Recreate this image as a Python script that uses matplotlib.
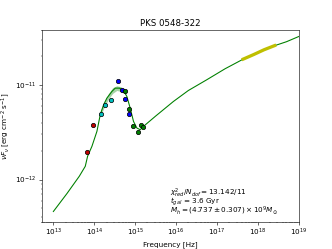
import numpy as np
import matplotlib
matplotlib.use('Agg')
import matplotlib.pyplot as plt

# observed SED points (log10 nu, log10 nuFnu)
red_x = [13.83, 13.96]
red_y = [-11.709, -11.428]
cyan_x = [14.155, 14.268, 14.398]
cyan_y = [-11.305, -11.21, -11.158]
blue_x = [14.585, 14.675, 14.748, 14.846]
blue_y = [-10.965, -11.053, -11.151, -11.305]
green_x = [14.748, 14.846, 14.95, 15.065, 15.146, 15.203]
green_y = [-11.06, -11.253, -11.435, -11.498, -11.428, -11.442]

# model curve
model_x = [13.0, 13.333, 13.634, 13.78, 13.837, 13.943, 14.065, 14.146, 14.228,
           14.309, 14.431, 14.512, 14.618, 14.715, 14.797, 14.878, 14.959,
           15.041, 15.122, 15.202, 15.5, 15.934, 16.3, 16.749, 17.2, 17.641,
           18.0, 18.415, 18.7, 19.0]
model_y = [-12.337, -12.147, -11.965, -11.86, -11.754, -11.649, -11.491, -11.316,
           -11.211, -11.14, -11.07, -11.035, -11.035, -11.06, -11.123, -11.246,
           -11.386, -11.456, -11.474, -11.439, -11.33, -11.176, -11.06, -10.947,
           -10.83, -10.729, -10.66, -10.586, -10.545, -10.49]

# spread of model around the peak
band_x = [14.15, 14.25, 14.35, 14.45, 14.55, 14.65, 14.72]
band_lo = [-11.33, -11.23, -11.15, -11.09, -11.06, -11.07, -11.09]
band_hi = [-11.27, -11.17, -11.09, -11.03, -11.01, -11.02, -11.04]

# X-ray segment
xray_x = [17.64, 17.9, 18.15, 18.41]
xray_y = [-10.729, -10.68, -10.63, -10.586]

fit_lines = [r'$\chi^2_{red}/N_{dof} = 13.142/11$',
             r'$t_{gal}$ = 3.6 Gyr',
             r'$M_h = (4.737 \pm 0.307) \times 10^9 M_{\odot}$']


def p(a):
    return 10 ** np.array(a)


fig = plt.figure(figsize=(6.4, 4.8), dpi=332 / 6.4)
ax = fig.add_subplot(111)

ax.plot(p(model_x), p(model_y), color='g', lw=1.5, zorder=2)
ax.fill_between(p(band_x), p(band_lo), p(band_hi), color='g', alpha=0.35, lw=0, zorder=2)
ax.plot(p(xray_x), p(xray_y), color='y', lw=4.5, zorder=3)

for xs, ys, c in [(red_x, red_y, '#c00000'), (cyan_x, cyan_y, 'c'),
                  (blue_x, blue_y, 'b'), (green_x, green_y, 'g')]:
    yv = p(ys)
    ax.errorbar(p(xs), yv, yerr=0.04 * yv, fmt='o', color=c, ecolor='grey',
                mec='k', ms=6, elinewidth=1, zorder=4)

ax.set_xscale('log')
ax.set_yscale('log')
ax.set_xlim(10 ** 12.71, 1e19)
ax.set_ylim(3.6e-13, 3.8e-11)
ax.set_xlabel('Frequency [Hz]')
ax.set_ylabel(r'$\nu F_\nu$ [erg cm$^{-2}$ s$^{-1}$]')
ax.set_title('PKS 0548-322')

# fit summary, one line at a time (tight spacing)
for i, s in enumerate(fit_lines):
    ax.text(0.5, 0.135 - 0.044 * i, s, transform=ax.transAxes,
            ha='left', va='baseline')

fig.savefig('out.png')
